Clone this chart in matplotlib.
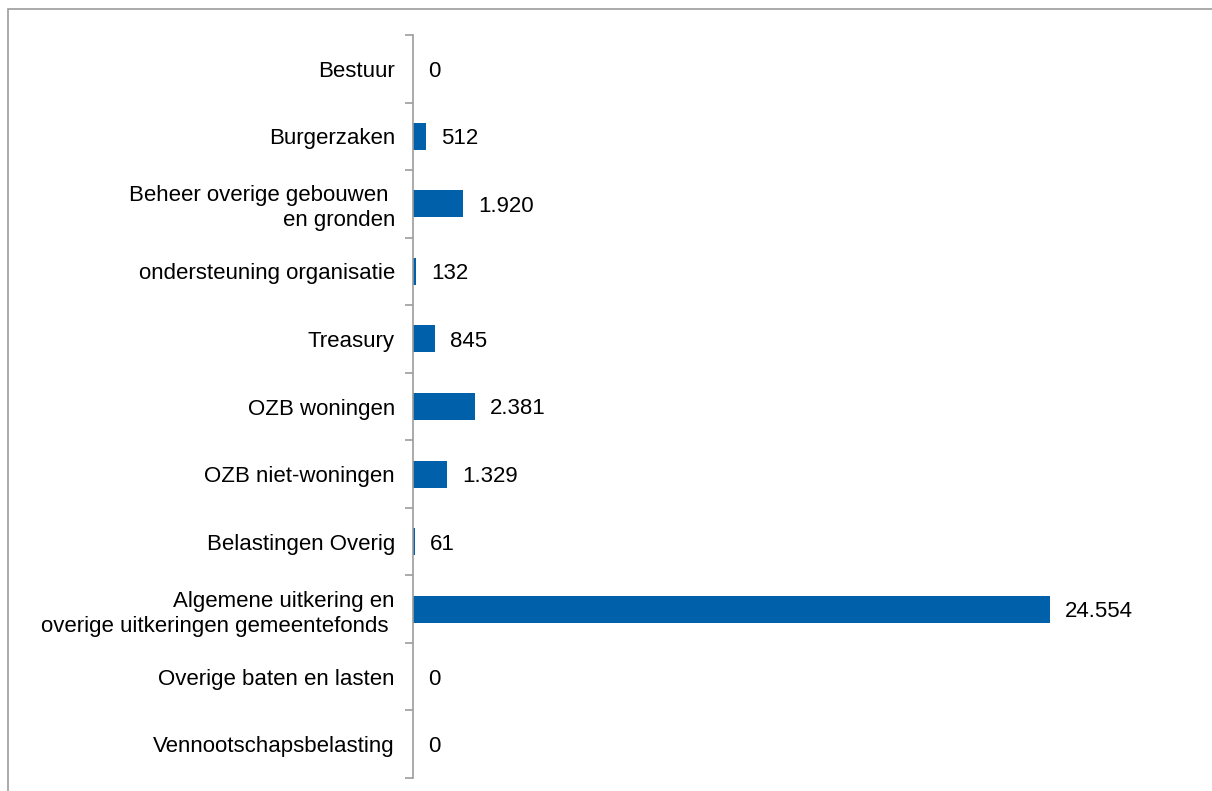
import matplotlib
matplotlib.use("Agg")
import matplotlib.pyplot as plt
from matplotlib.patches import Rectangle
import numpy as np

plt.rcParams['font.family'] = ['Liberation Sans', 'DejaVu Sans']

categories = [
    "Bestuur",
    "Burgerzaken",
    "Beheer overige gebouwen \nen gronden",
    "ondersteuning organisatie",
    "Treasury",
    "OZB woningen",
    "OZB niet-woningen",
    "Belastingen Overig",
    "Algemene uitkering en\noverige uitkeringen gemeentefonds ",
    "Overige baten en lasten",
    "Vennootschapsbelasting",
]
values = [0, 512, 1920, 132, 845, 2381, 1329, 61, 24554, 0, 0]
value_labels = ["0", "512", "1.920", "132", "845", "2.381", "1.329", "61", "24.554", "0", "0"]

W, H = 1212, 791
fig = plt.figure(figsize=(W / 100, H / 100), dpi=100)

# outer frame (like the Excel chart area border)
fig.patches.append(Rectangle((8 / W, -0.1), 1.2, 1.1 - 9 / H, transform=fig.transFigure,
                             fill=False, edgecolor="#9c9c9c", linewidth=1.2))

ax = fig.add_axes([413 / W, 13 / H, (1191 - 413) / W, (778 - 35) / H])

y = np.arange(len(categories))
ax.barh(y, values, height=0.4, color="#0060A9", linewidth=0)

for yi, v, lab in zip(y, values, value_labels):
    ax.annotate(lab, (v, yi), xytext=(11, 0), textcoords="offset points",
                va="center_baseline", ha="left", fontsize=16, color="black")

ax.set_xlim(0, 30000)
ax.set_ylim(len(categories) - 0.5, -0.5)

ax.set_yticks(y)
ax.set_yticklabels(categories, fontsize=16, linespacing=1.25)
for t in ax.get_yticklabels():
    t.set_verticalalignment("center_baseline")
ax.set_yticks(np.arange(len(categories) + 1) - 0.5, minor=True)
ax.tick_params(axis="y", which="major", length=0, pad=13)
ax.tick_params(axis="y", which="minor", length=6, color="#9c9c9c", width=1.2)
ax.set_xticks([])

for s in ["top", "right", "bottom"]:
    ax.spines[s].set_visible(False)
ax.spines["left"].set_color("#9c9c9c")
ax.spines["left"].set_linewidth(1.2)

fig.savefig("out.png", dpi=100)
